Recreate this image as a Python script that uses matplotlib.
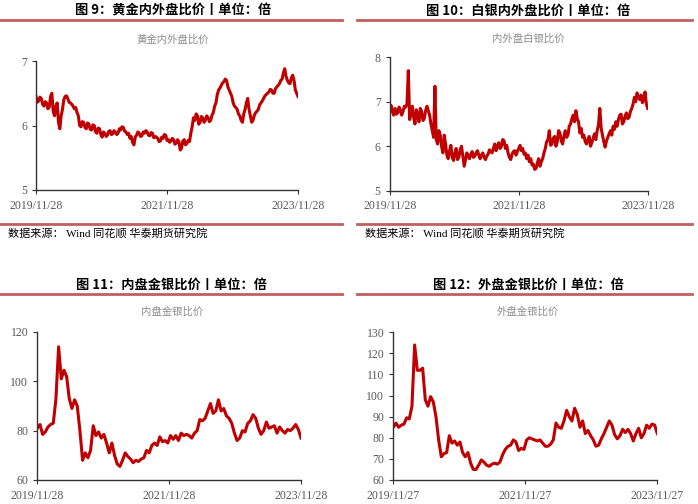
import numpy as np
import pandas as pd
import matplotlib
matplotlib.use('Agg')
import matplotlib.pyplot as plt
from matplotlib.lines import Line2D

# values, evenly spaced from start date to end date
gold_in_out = [
    6.45, 6.36, 6.38, 6.44, 6.42, 6.33, 6.30, 6.37, 6.35, 6.26,
    6.28, 6.45, 6.50, 6.22, 6.15, 6.30, 6.35, 6.05, 5.95, 6.15,
    6.25, 6.40, 6.45, 6.46, 6.42, 6.36, 6.35, 6.33, 6.30, 6.26,
    6.28, 6.20, 6.15, 6.00, 5.98, 6.06, 6.05, 5.97, 5.95, 6.04,
    6.02, 5.94, 5.93, 6.01, 6.00, 5.90, 5.88, 5.96, 5.95, 5.86,
    5.82, 5.90, 5.88, 5.83, 5.85, 5.91, 5.92, 5.86, 5.87, 5.92,
    5.90, 5.86, 5.88, 5.95, 5.93, 5.98, 5.97, 5.91, 5.90, 5.86,
    5.88, 5.80, 5.83, 5.74, 5.70, 5.82, 5.85, 5.90, 5.88, 5.83,
    5.84, 5.90, 5.88, 5.92, 5.90, 5.85, 5.84, 5.89, 5.88, 5.81,
    5.83, 5.82, 5.80, 5.75, 5.76, 5.82, 5.80, 5.86, 5.85, 5.77,
    5.78, 5.74, 5.76, 5.80, 5.78, 5.71, 5.73, 5.78, 5.75, 5.62,
    5.65, 5.76, 5.78, 5.70, 5.72, 5.77, 5.75, 5.88, 5.98, 6.12,
    6.08, 6.18, 6.15, 6.02, 6.05, 6.14, 6.12, 6.05, 6.08, 6.15,
    6.12, 6.06, 6.08, 6.16, 6.20, 6.30, 6.35, 6.48, 6.55, 6.58,
    6.62, 6.66, 6.68, 6.72, 6.70, 6.60, 6.55, 6.50, 6.45, 6.35,
    6.30, 6.28, 6.25, 6.18, 6.15, 6.08, 6.05, 6.18, 6.25, 6.35,
    6.42, 6.25, 6.15, 6.05, 6.08, 6.16, 6.20, 6.22, 6.25, 6.32,
    6.35, 6.38, 6.42, 6.46, 6.48, 6.50, 6.52, 6.56, 6.55, 6.50,
    6.50, 6.57, 6.60, 6.62, 6.65, 6.70, 6.72, 6.82, 6.88, 6.76,
    6.70, 6.66, 6.65, 6.74, 6.78, 6.70, 6.55, 6.50, 6.45,
]

silver_in_out = [
    6.80, 6.92, 6.78, 6.70, 6.85, 6.72, 6.75, 6.88, 6.82, 6.70,
    6.78, 6.90, 6.88, 6.95, 7.70, 6.60, 6.75, 6.90, 6.65, 6.50,
    6.82, 6.70, 6.55, 6.85, 6.78, 6.58, 6.62, 6.80, 6.90, 6.80,
    6.70, 6.50, 6.35, 6.20, 7.35, 6.15, 6.05, 6.35, 6.25, 6.00,
    5.85, 6.25, 6.05, 5.80, 5.72, 5.90, 6.02, 5.75, 5.68, 5.85,
    5.95, 5.70, 5.75, 5.92, 6.00, 5.78, 5.55, 5.70, 5.85, 5.78,
    5.72, 5.82, 5.88, 5.75, 5.78, 5.85, 5.90, 5.80, 5.72, 5.80,
    5.85, 5.75, 5.70, 5.78, 5.82, 5.92, 5.88, 5.85, 5.95, 6.05,
    5.90, 6.00, 6.08, 5.95, 6.00, 6.15, 6.12, 5.95, 6.02, 5.85,
    5.75, 5.70, 5.82, 5.88, 5.90, 5.80, 5.88, 5.95, 6.02, 5.90,
    5.95, 5.82, 5.85, 5.72, 5.80, 5.65, 5.72, 5.58, 5.60, 5.48,
    5.50, 5.62, 5.72, 5.55, 5.65, 5.72, 5.85, 5.95, 6.10, 6.15,
    6.35, 6.02, 6.05, 6.18, 6.22, 6.00, 6.10, 6.35, 6.30, 6.12,
    6.05, 6.22, 6.35, 6.20, 6.25, 6.45, 6.50, 6.62, 6.70, 6.55,
    6.80, 6.62, 6.55, 6.30, 6.40, 6.20, 6.25, 6.10, 6.05, 6.15,
    6.22, 6.00, 6.08, 6.18, 6.28, 6.15, 6.35, 6.48, 6.85, 6.40,
    6.25, 6.10, 5.98, 6.12, 6.20, 6.28, 6.35, 6.25, 6.45, 6.38,
    6.55, 6.45, 6.60, 6.70, 6.72, 6.50, 6.55, 6.68, 6.75, 6.62,
    6.65, 6.78, 6.85, 6.95, 7.10, 7.00, 7.20, 7.10, 7.05, 7.15,
    6.98, 7.05, 7.22, 6.95, 6.85,
]

gold_silver_in = [
    81, 82.5, 78.5, 79.5, 81.5, 82.5, 83, 93, 114, 101,
    104.5, 102, 93, 89, 92.5, 90, 80, 68, 71, 69,
    72, 82, 78, 79.5, 77, 78.5, 75, 71, 75, 70,
    66.5, 65.5, 68, 71, 69.5, 68.5, 67, 68, 67.5, 68.5,
    69, 72, 71, 74, 75, 74, 77.5, 75.5, 76, 75,
    78, 76.5, 78, 76, 79, 78, 78.5, 78, 77, 79,
    80, 84.5, 84, 85, 88, 91, 87, 88, 92.5, 88,
    89, 86, 85, 83, 79, 76, 77, 80, 79.5, 83,
    84, 86.5, 85, 81, 78.5, 80, 83.5, 81, 81.5, 82,
    79, 81.5, 80, 79, 80.5, 80, 81, 82.5, 80.5, 77,
]

gold_silver_out = [
    85, 87, 85, 86, 86.5, 89.5, 89, 95, 124, 112,
    112, 113, 98, 95, 99.5, 97, 90, 79, 71, 72.5,
    73, 81, 77.5, 78.5, 76.5, 78, 73, 71, 73, 68,
    65, 65, 67, 69.5, 68.5, 67, 66.5, 67.5, 68, 67.5,
    68.5, 72, 74.5, 76, 76.5, 79, 78, 74, 75, 74.5,
    79, 80, 79.5, 79, 78.5, 79, 77.5, 76, 76, 77,
    79, 87, 85, 84.5, 88, 93, 90, 88, 94, 91,
    85, 88, 82, 83.5, 81, 79, 76, 76.5, 79.5, 82,
    85, 88, 86, 81.5, 79.5, 81, 84, 82.5, 84, 82,
    78.5, 82, 84.5, 80, 82, 86, 84.5, 86.5, 86, 82,
]

W, H = 698, 504
RED = '#C00000'
RULE = '#C0605E'
GRAY = '#595959'
CJK = ['Noto Sans CJK SC', 'DejaVu Sans']
SERIF = ['Liberation Serif', 'Noto Sans CJK SC']

fig = plt.figure(figsize=(W / 100, H / 100), dpi=100)
fig.patch.set_facecolor('white')


def fx(x):
    return x / W


def fy(y):
    return 1 - y / H


def rule(x0, x1, y):
    fig.add_artist(Line2D([fx(x0), fx(x1)], [fy(y), fy(y)], color=RULE, lw=2,
                          transform=fig.transFigure))


def panel(box, values, start, end, ylim, yticks, title, subtitle, tx, ty, sub_y):
    left, right, top, bottom = box
    ax = fig.add_axes([fx(left), fy(bottom), fx(right - left), (bottom - top) / H])
    dates = pd.date_range(start, end, periods=len(values))
    ax.plot(dates, values, color=RED, lw=2.2)
    ax.set_xlim(pd.Timestamp(start), pd.Timestamp(end))
    ax.set_ylim(*ylim)
    ax.set_yticks(yticks)
    ticks = [pd.Timestamp(start), pd.Timestamp(start.replace('2019', '2021')), pd.Timestamp(end)]
    ax.set_xticks(ticks)
    ax.set_xticklabels([t.strftime('%Y/%m/%d') for t in ticks])
    for s in ['top', 'right']:
        ax.spines[s].set_visible(False)
    for s in ['left', 'bottom']:
        ax.spines[s].set_color('#333333')
        ax.spines[s].set_linewidth(1)
    ax.tick_params(direction='out', length=3, width=0.8, colors='#333333',
                   labelcolor=GRAY, labelsize=8.5)
    for lab in ax.get_xticklabels() + ax.get_yticklabels():
        lab.set_family(SERIF)
    ax.tick_params(axis='x', pad=4)
    fig.text(fx(tx), fy(ty), title, ha='center', va='center', fontsize=9.5,
             fontweight='bold', family=CJK, color='black')
    fig.text(fx(tx), fy(sub_y), subtitle, ha='center', va='center', fontsize=7.5,
             family=CJK, color='#8C8C8C')
    return ax


panel((36, 298, 61, 190), gold_in_out, '2019-11-28', '2023-11-28', (5, 7), [5, 6, 7],
      '图 9：黄金内外盘比价丨单位：倍', '黄金内外盘比价', 173, 11, 40)
panel((389.7, 647.7, 57.3, 190.7), silver_in_out, '2019-11-28', '2023-11-28', (5, 8), [5, 6, 7, 8],
      '图 10：白银内外盘比价丨单位：倍', '内外盘白银比价', 528, 11, 39)
panel((37.3, 301, 332, 480), gold_silver_in, '2019-11-28', '2023-11-28', (60, 120), [60, 80, 100, 120],
      '图 11：内盘金银比价丨单位：倍', '内盘金银比价', 172, 285, 312)
panel((393.3, 657.3, 332.3, 480), gold_silver_out, '2019-11-27', '2023-11-27', (60, 130),
      [60, 70, 80, 90, 100, 110, 120, 130],
      '图 12：外盘金银比价丨单位：倍', '外盘金银比价', 528, 285, 312)

rule(0, 342, 20)
rule(357, 692, 20)
rule(0, 342, 224)
rule(357, 692, 224)
rule(0, 342, 294)
rule(357, 692, 294)

fig.text(fx(8), fy(233), '数据来源： Wind 同花顺 华泰期货研究院', ha='left', va='center',
         fontsize=8, family=SERIF, color='black')
fig.text(fx(365), fy(233), '数据来源： Wind 同花顺 华泰期货研究院', ha='left', va='center',
         fontsize=8, family=SERIF, color='black')

fig.savefig('out.png', dpi=100, facecolor='white')
